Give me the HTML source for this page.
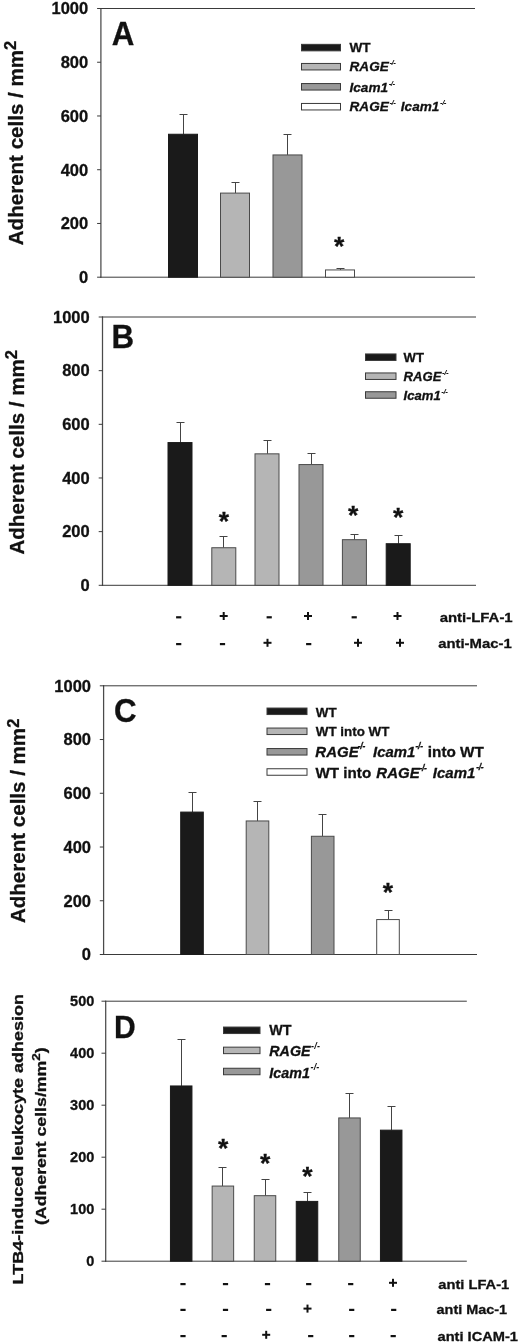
<!DOCTYPE html><html><head><meta charset="utf-8"><style>html,body{margin:0;padding:0;background:#fff}svg{display:block;filter:blur(0.35px)}text{font-family:"Liberation Sans",sans-serif;font-weight:bold;fill:#111111;stroke:#111111;stroke-width:0.3px}</style></head><body>
<svg width="520" height="1343" viewBox="0 0 520 1343">
<rect width="520" height="1343" fill="#fff"/>
<line x1="100.9" y1="8.0" x2="100.9" y2="277.7" stroke="#4a4a4a" stroke-width="1.25"/>
<line x1="100.4" y1="8.5" x2="475" y2="8.5" stroke="#3a3a3a" stroke-width="1"/>
<line x1="100.4" y1="277.2" x2="475" y2="277.2" stroke="#3a3a3a" stroke-width="1"/>
<line x1="97.10000000000001" y1="277.2" x2="100.9" y2="277.2" stroke="#3a3a3a" stroke-width="1"/>
<text x="88.2" y="283.0" font-size="16.5" text-anchor="end"  style="">0</text>
<line x1="97.10000000000001" y1="223.45999999999998" x2="100.9" y2="223.45999999999998" stroke="#3a3a3a" stroke-width="1"/>
<text x="88.2" y="229.26" font-size="16.5" text-anchor="end"  style="">200</text>
<line x1="97.10000000000001" y1="169.71999999999997" x2="100.9" y2="169.71999999999997" stroke="#3a3a3a" stroke-width="1"/>
<text x="88.2" y="175.51999999999998" font-size="16.5" text-anchor="end"  style="">400</text>
<line x1="97.10000000000001" y1="115.97999999999999" x2="100.9" y2="115.97999999999999" stroke="#3a3a3a" stroke-width="1"/>
<text x="88.2" y="121.77999999999999" font-size="16.5" text-anchor="end"  style="">600</text>
<line x1="97.10000000000001" y1="62.23999999999998" x2="100.9" y2="62.23999999999998" stroke="#3a3a3a" stroke-width="1"/>
<text x="88.2" y="68.03999999999998" font-size="16.5" text-anchor="end"  style="">800</text>
<line x1="97.10000000000001" y1="8.5" x2="100.9" y2="8.5" stroke="#3a3a3a" stroke-width="1"/>
<text x="88.2" y="14.3" font-size="16.5" text-anchor="end"  style="">1000</text>
<line x1="183.5" y1="114.5" x2="183.5" y2="134.2516" stroke="#444" stroke-width="1"/>
<line x1="179.5" y1="114.5" x2="187.5" y2="114.5" stroke="#444" stroke-width="1"/>
<rect x="168.5" y="134.2516" width="29" height="142.9484" fill="#1a1a1a" stroke="#1a1a1a" stroke-width="1"/>
<line x1="235.5" y1="182.5" x2="235.5" y2="193.0969" stroke="#444" stroke-width="1"/>
<line x1="231.5" y1="182.5" x2="239.5" y2="182.5" stroke="#444" stroke-width="1"/>
<rect x="220.5" y="193.0969" width="29" height="84.10309999999998" fill="#b5b5b5" stroke="#4a4a4a" stroke-width="1"/>
<line x1="287.5" y1="134.5" x2="287.5" y2="154.9415" stroke="#444" stroke-width="1"/>
<line x1="283.5" y1="134.5" x2="291.5" y2="134.5" stroke="#444" stroke-width="1"/>
<rect x="273.0" y="154.9415" width="29" height="122.2585" fill="#989898" stroke="#4a4a4a" stroke-width="1"/>
<line x1="340.5" y1="268.5" x2="340.5" y2="269.94509999999997" stroke="#444" stroke-width="1"/>
<line x1="336.5" y1="268.5" x2="344.5" y2="268.5" stroke="#444" stroke-width="1"/>
<rect x="325.5" y="269.94509999999997" width="29" height="7.2549000000000206" fill="#ffffff" stroke="#4a4a4a" stroke-width="1"/>
<text x="339.2" y="255.3" font-size="26.5" text-anchor="middle" stroke="none" style="">*</text>
<text transform="translate(111.7,44.6) scale(0.94,1)" font-size="33.3">A</text>
<rect x="301.5" y="44.35" width="39" height="6.5" fill="#1a1a1a" stroke="#3a3a3a" stroke-width="1"/>
<text x="349.5" y="52.2" font-size="13.6" text-anchor="start"  style="">WT</text>
<rect x="301.5" y="63.45" width="39" height="6.5" fill="#b5b5b5" stroke="#3a3a3a" stroke-width="1"/>
<text x="349.5" y="71.3" font-size="13.6" text-anchor="start"  style=""><tspan font-style="italic">RAGE</tspan><tspan dy="-6.0" dx="0.6" font-size="8" font-style="italic" font-weight="bold" letter-spacing="-0.5" stroke="none">-/-</tspan></text>
<rect x="301.5" y="83.55" width="39" height="6.5" fill="#989898" stroke="#3a3a3a" stroke-width="1"/>
<text x="349.5" y="92.3" font-size="13.6" text-anchor="start"  style=""><tspan font-style="italic">Icam1</tspan><tspan dy="-6.0" dx="0.6" font-size="8" font-style="italic" font-weight="bold" letter-spacing="-0.5" stroke="none">-/-</tspan></text>
<rect x="301.5" y="103.45" width="39" height="6.5" fill="#ffffff" stroke="#3a3a3a" stroke-width="1"/>
<text x="349.5" y="111.3" font-size="13.6" text-anchor="start"  style=""><tspan font-style="italic">RAGE</tspan><tspan dy="-6.0" dx="0.6" font-size="8" font-style="italic" font-weight="bold" letter-spacing="-0.5" stroke="none">-/-</tspan><tspan dy="6.0" dx="1.6" letter-spacing="0" font-style="italic"> Icam1</tspan><tspan dy="-6.0" dx="0.6" font-size="8" font-style="italic" font-weight="bold" letter-spacing="-0.5" stroke="none">-/-</tspan></text>
<text transform="translate(23,143.0) rotate(-90) scale(1,1)" font-size="20.55" text-anchor="middle">Adherent cells / mm<tspan dy="-6.9" font-size="16.5">2</tspan></text>
<line x1="102.5" y1="316.5" x2="102.5" y2="585.8" stroke="#4a4a4a" stroke-width="1.25"/>
<line x1="102.0" y1="317" x2="476" y2="317" stroke="#3a3a3a" stroke-width="1"/>
<line x1="102.0" y1="585.3" x2="476" y2="585.3" stroke="#3a3a3a" stroke-width="1"/>
<line x1="98.7" y1="585.3" x2="102.5" y2="585.3" stroke="#3a3a3a" stroke-width="1"/>
<text x="89.7" y="591.0999999999999" font-size="16.5" text-anchor="end"  style="">0</text>
<line x1="98.7" y1="531.64" x2="102.5" y2="531.64" stroke="#3a3a3a" stroke-width="1"/>
<text x="89.7" y="537.4399999999999" font-size="16.5" text-anchor="end"  style="">200</text>
<line x1="98.7" y1="477.98" x2="102.5" y2="477.98" stroke="#3a3a3a" stroke-width="1"/>
<text x="89.7" y="483.78000000000003" font-size="16.5" text-anchor="end"  style="">400</text>
<line x1="98.7" y1="424.32" x2="102.5" y2="424.32" stroke="#3a3a3a" stroke-width="1"/>
<text x="89.7" y="430.12" font-size="16.5" text-anchor="end"  style="">600</text>
<line x1="98.7" y1="370.66" x2="102.5" y2="370.66" stroke="#3a3a3a" stroke-width="1"/>
<text x="89.7" y="376.46000000000004" font-size="16.5" text-anchor="end"  style="">800</text>
<line x1="98.7" y1="317.0" x2="102.5" y2="317.0" stroke="#3a3a3a" stroke-width="1"/>
<text x="89.7" y="322.8" font-size="16.5" text-anchor="end"  style="">1000</text>
<line x1="180.5" y1="422.5" x2="180.5" y2="442.5644" stroke="#444" stroke-width="1"/>
<line x1="176.5" y1="422.5" x2="184.5" y2="422.5" stroke="#444" stroke-width="1"/>
<rect x="168.0" y="442.5644" width="24" height="142.73559999999998" fill="#1a1a1a" stroke="#1a1a1a" stroke-width="1"/>
<line x1="223.5" y1="536.5" x2="223.5" y2="547.7379999999999" stroke="#444" stroke-width="1"/>
<line x1="219.5" y1="536.5" x2="227.5" y2="536.5" stroke="#444" stroke-width="1"/>
<rect x="211.8" y="547.7379999999999" width="24" height="37.56200000000001" fill="#b5b5b5" stroke="#4a4a4a" stroke-width="1"/>
<text x="223.8" y="529.5999999999999" font-size="26.5" text-anchor="middle" stroke="none" style="">*</text>
<line x1="267.5" y1="440.5" x2="267.5" y2="453.83299999999997" stroke="#444" stroke-width="1"/>
<line x1="263.5" y1="440.5" x2="271.5" y2="440.5" stroke="#444" stroke-width="1"/>
<rect x="255.0" y="453.83299999999997" width="24" height="131.46699999999998" fill="#b5b5b5" stroke="#4a4a4a" stroke-width="1"/>
<line x1="311.5" y1="453.5" x2="311.5" y2="464.565" stroke="#444" stroke-width="1"/>
<line x1="307.5" y1="453.5" x2="315.5" y2="453.5" stroke="#444" stroke-width="1"/>
<rect x="299.0" y="464.565" width="24" height="120.73499999999996" fill="#989898" stroke="#4a4a4a" stroke-width="1"/>
<line x1="354.5" y1="534.5" x2="354.5" y2="539.689" stroke="#444" stroke-width="1"/>
<line x1="350.5" y1="534.5" x2="358.5" y2="534.5" stroke="#444" stroke-width="1"/>
<rect x="342.4" y="539.689" width="24" height="45.61099999999999" fill="#989898" stroke="#4a4a4a" stroke-width="1"/>
<text x="353.2" y="524.3" font-size="26.5" text-anchor="middle" stroke="none" style="">*</text>
<line x1="398.5" y1="535.5" x2="398.5" y2="543.7135" stroke="#444" stroke-width="1"/>
<line x1="394.5" y1="535.5" x2="402.5" y2="535.5" stroke="#444" stroke-width="1"/>
<rect x="386.2" y="543.7135" width="24" height="41.5865" fill="#1a1a1a" stroke="#1a1a1a" stroke-width="1"/>
<text x="398.2" y="525.8" font-size="26.5" text-anchor="middle" stroke="none" style="">*</text>
<text transform="translate(111.4,348.1) scale(0.94,1)" font-size="33.3">B</text>
<rect x="365.5" y="353.95" width="30.5" height="6.5" fill="#1a1a1a" stroke="#3a3a3a" stroke-width="1"/>
<text x="403.6" y="362.2" font-size="13.1" text-anchor="start"  style="">WT</text>
<rect x="365.5" y="372.95" width="30.5" height="6.5" fill="#b5b5b5" stroke="#3a3a3a" stroke-width="1"/>
<text x="403.6" y="380.8" font-size="13.1" text-anchor="start"  style=""><tspan font-style="italic">RAGE</tspan><tspan dy="-6.0" dx="0.6" font-size="8" font-style="italic" font-weight="bold" letter-spacing="-0.5" stroke="none">-/-</tspan></text>
<rect x="365.5" y="391.75" width="30.5" height="6.5" fill="#989898" stroke="#3a3a3a" stroke-width="1"/>
<text x="403.6" y="399.7" font-size="13.1" text-anchor="start"  style=""><tspan font-style="italic">Icam1</tspan><tspan dy="-6.0" dx="0.6" font-size="8" font-style="italic" font-weight="bold" letter-spacing="-0.5" stroke="none">-/-</tspan></text>
<text transform="translate(24.2,452.3) rotate(-90) scale(1,1)" font-size="20.55" text-anchor="middle">Adherent cells / mm<tspan dy="-6.9" font-size="16.5">2</tspan></text>
<rect x="176.1" y="616.1999999999999" width="5.2" height="2.2" fill="#111111"/>
<rect x="219.7" y="615.0" width="8" height="2.0" fill="#111111"/>
<rect x="222.7" y="612.0" width="2.0" height="8" fill="#111111"/>
<rect x="266.59999999999997" y="616.1999999999999" width="5.2" height="2.2" fill="#111111"/>
<rect x="304.0" y="615.0" width="8" height="2.0" fill="#111111"/>
<rect x="307.0" y="612.0" width="2.0" height="8" fill="#111111"/>
<rect x="351.59999999999997" y="616.1999999999999" width="5.2" height="2.2" fill="#111111"/>
<rect x="393.5" y="615.0" width="8" height="2.0" fill="#111111"/>
<rect x="396.5" y="612.0" width="2.0" height="8" fill="#111111"/>
<rect x="176.1" y="642.9999999999999" width="5.2" height="2.2" fill="#111111"/>
<rect x="219.9" y="642.9999999999999" width="5.2" height="2.2" fill="#111111"/>
<rect x="263.5" y="641.8" width="8" height="2.0" fill="#111111"/>
<rect x="266.5" y="638.8" width="2.0" height="8" fill="#111111"/>
<rect x="306.09999999999997" y="642.9999999999999" width="5.2" height="2.2" fill="#111111"/>
<rect x="354.0" y="641.8" width="8" height="2.0" fill="#111111"/>
<rect x="357.0" y="638.8" width="2.0" height="8" fill="#111111"/>
<rect x="396.0" y="641.8" width="8" height="2.0" fill="#111111"/>
<rect x="399.0" y="638.8" width="2.0" height="8" fill="#111111"/>
<text x="439.7" y="622" font-size="13.4" textLength="73" lengthAdjust="spacingAndGlyphs">anti-LFA-1</text>
<text x="438.2" y="648" font-size="13.4" textLength="73.5" lengthAdjust="spacingAndGlyphs">anti-Mac-1</text>
<line x1="103.6" y1="685.3" x2="103.6" y2="955.0" stroke="#4a4a4a" stroke-width="1.25"/>
<line x1="103.1" y1="685.8" x2="477" y2="685.8" stroke="#3a3a3a" stroke-width="1"/>
<line x1="103.1" y1="954.5" x2="477" y2="954.5" stroke="#3a3a3a" stroke-width="1"/>
<line x1="99.8" y1="954.5" x2="103.6" y2="954.5" stroke="#3a3a3a" stroke-width="1"/>
<text x="91.0" y="960.3" font-size="16.5" text-anchor="end"  style="">0</text>
<line x1="99.8" y1="900.76" x2="103.6" y2="900.76" stroke="#3a3a3a" stroke-width="1"/>
<text x="91.0" y="906.56" font-size="16.5" text-anchor="end"  style="">200</text>
<line x1="99.8" y1="847.02" x2="103.6" y2="847.02" stroke="#3a3a3a" stroke-width="1"/>
<text x="91.0" y="852.8199999999999" font-size="16.5" text-anchor="end"  style="">400</text>
<line x1="99.8" y1="793.28" x2="103.6" y2="793.28" stroke="#3a3a3a" stroke-width="1"/>
<text x="91.0" y="799.0799999999999" font-size="16.5" text-anchor="end"  style="">600</text>
<line x1="99.8" y1="739.54" x2="103.6" y2="739.54" stroke="#3a3a3a" stroke-width="1"/>
<text x="91.0" y="745.3399999999999" font-size="16.5" text-anchor="end"  style="">800</text>
<line x1="99.8" y1="685.8" x2="103.6" y2="685.8" stroke="#3a3a3a" stroke-width="1"/>
<text x="91.0" y="691.5999999999999" font-size="16.5" text-anchor="end"  style="">1000</text>
<line x1="192.5" y1="792.5" x2="192.5" y2="812.0889999999999" stroke="#444" stroke-width="1"/>
<line x1="188.5" y1="792.5" x2="196.5" y2="792.5" stroke="#444" stroke-width="1"/>
<rect x="180.7" y="812.0889999999999" width="22.6" height="142.41100000000006" fill="#1a1a1a" stroke="#1a1a1a" stroke-width="1"/>
<line x1="257.5" y1="801.5" x2="257.5" y2="820.9561" stroke="#444" stroke-width="1"/>
<line x1="253.5" y1="801.5" x2="261.5" y2="801.5" stroke="#444" stroke-width="1"/>
<rect x="246.2" y="820.9561" width="22.6" height="133.5439" fill="#b5b5b5" stroke="#4a4a4a" stroke-width="1"/>
<line x1="322.5" y1="814.5" x2="322.5" y2="836.2719999999999" stroke="#444" stroke-width="1"/>
<line x1="318.5" y1="814.5" x2="326.5" y2="814.5" stroke="#444" stroke-width="1"/>
<rect x="311.4" y="836.2719999999999" width="22.6" height="118.22800000000007" fill="#989898" stroke="#4a4a4a" stroke-width="1"/>
<line x1="388.5" y1="910.5" x2="388.5" y2="919.569" stroke="#444" stroke-width="1"/>
<line x1="384.5" y1="910.5" x2="392.5" y2="910.5" stroke="#444" stroke-width="1"/>
<rect x="376.7" y="919.569" width="22.6" height="34.93100000000004" fill="#ffffff" stroke="#4a4a4a" stroke-width="1"/>
<text x="388" y="900.8" font-size="26.5" text-anchor="middle" stroke="none" style="">*</text>
<text transform="translate(114.0,722.4) scale(0.94,1)" font-size="33.3">C</text>
<rect x="267" y="708.05" width="40" height="6.5" fill="#1a1a1a" stroke="#3a3a3a" stroke-width="1"/>
<text x="315.8" y="716.8" font-size="13.4" text-anchor="start"  style="">WT</text>
<rect x="267" y="728.05" width="40" height="6.5" fill="#b5b5b5" stroke="#3a3a3a" stroke-width="1"/>
<text x="315.8" y="735.5999999999999" font-size="13.4" text-anchor="start"  style="">WT into WT</text>
<rect x="267" y="748.55" width="40" height="6.5" fill="#989898" stroke="#3a3a3a" stroke-width="1"/>
<text x="315.8" y="756.4" font-size="13.4" text-anchor="start"  style=""></text>
<rect x="267" y="768.75" width="40" height="6.5" fill="#ffffff" stroke="#3a3a3a" stroke-width="1"/>
<text x="315.8" y="776.6" font-size="13.4" text-anchor="start"  style=""></text>
<text x="315.3" y="757" font-size="15" font-style="italic">RAGE</text>
<text x="357.8" y="749.3" font-size="8.5" font-style="italic" letter-spacing="-0.3" stroke="none">-/-</text>
<text x="373.0" y="757" font-size="14.9" font-style="italic">Icam1</text>
<text x="415.6" y="749.0" font-size="8.5" font-style="italic" letter-spacing="-0.3" stroke="none">-/-</text>
<text x="427.8" y="757" font-size="15.3" text-anchor="start"  style="">into WT</text>
<text x="315.5" y="778.0" font-size="15.2" text-anchor="start"  style="">WT into</text>
<text x="376.3" y="778.0" font-size="15" font-style="italic">RAGE</text>
<text x="419.4" y="770.6" font-size="8.5" font-style="italic" letter-spacing="-0.3" stroke="none">-/-</text>
<text x="432.8" y="778.0" font-size="15" font-style="italic">Icam1</text>
<text x="476.2" y="770.3" font-size="8.5" font-style="italic" letter-spacing="-0.3" stroke="none">-/-</text>
<text transform="translate(25.4,820.9) rotate(-90) scale(1,1)" font-size="20.55" text-anchor="middle">Adherent cells / mm<tspan dy="-6.9" font-size="16.5">2</tspan></text>
<line x1="105.7" y1="1000.7" x2="105.7" y2="1261.7" stroke="#4a4a4a" stroke-width="1.25"/>
<line x1="105.2" y1="1001.2" x2="466.8" y2="1001.2" stroke="#3a3a3a" stroke-width="1"/>
<line x1="105.2" y1="1261.2" x2="466.8" y2="1261.2" stroke="#3a3a3a" stroke-width="1"/>
<line x1="101.5" y1="1261.2" x2="105.7" y2="1261.2" stroke="#3a3a3a" stroke-width="1"/>
<text x="94.3" y="1266.3" font-size="14.5" text-anchor="end"  style="">0</text>
<line x1="101.5" y1="1209.2" x2="105.7" y2="1209.2" stroke="#3a3a3a" stroke-width="1"/>
<text x="94.3" y="1214.3" font-size="14.5" text-anchor="end"  style="">100</text>
<line x1="101.5" y1="1157.2" x2="105.7" y2="1157.2" stroke="#3a3a3a" stroke-width="1"/>
<text x="94.3" y="1162.3" font-size="14.5" text-anchor="end"  style="">200</text>
<line x1="101.5" y1="1105.2" x2="105.7" y2="1105.2" stroke="#3a3a3a" stroke-width="1"/>
<text x="94.3" y="1110.3" font-size="14.5" text-anchor="end"  style="">300</text>
<line x1="101.5" y1="1053.2" x2="105.7" y2="1053.2" stroke="#3a3a3a" stroke-width="1"/>
<text x="94.3" y="1058.3" font-size="14.5" text-anchor="end"  style="">400</text>
<line x1="101.5" y1="1001.2" x2="105.7" y2="1001.2" stroke="#3a3a3a" stroke-width="1"/>
<text x="94.3" y="1006.3000000000001" font-size="14.5" text-anchor="end"  style="">500</text>
<line x1="181.5" y1="1039.5" x2="181.5" y2="1085.96" stroke="#444" stroke-width="1"/>
<line x1="177.5" y1="1039.5" x2="185.5" y2="1039.5" stroke="#444" stroke-width="1"/>
<rect x="170.45" y="1085.96" width="21.5" height="175.24" fill="#1a1a1a" stroke="#1a1a1a" stroke-width="1"/>
<line x1="222.5" y1="1167.5" x2="222.5" y2="1186.06" stroke="#444" stroke-width="1"/>
<line x1="218.5" y1="1167.5" x2="226.5" y2="1167.5" stroke="#444" stroke-width="1"/>
<rect x="212.15" y="1186.06" width="21.5" height="75.1400000000001" fill="#b5b5b5" stroke="#4a4a4a" stroke-width="1"/>
<text x="223.2" y="1157.3" font-size="26.5" text-anchor="middle" stroke="none" style="">*</text>
<line x1="265.5" y1="1179.5" x2="265.5" y2="1195.68" stroke="#444" stroke-width="1"/>
<line x1="261.5" y1="1179.5" x2="269.5" y2="1179.5" stroke="#444" stroke-width="1"/>
<rect x="254.25" y="1195.68" width="21.5" height="65.51999999999998" fill="#b5b5b5" stroke="#4a4a4a" stroke-width="1"/>
<text x="265.2" y="1171.8" font-size="26.5" text-anchor="middle" stroke="none" style="">*</text>
<line x1="307.5" y1="1192.5" x2="307.5" y2="1201.4" stroke="#444" stroke-width="1"/>
<line x1="303.5" y1="1192.5" x2="311.5" y2="1192.5" stroke="#444" stroke-width="1"/>
<rect x="296.25" y="1201.4" width="21.5" height="59.799999999999955" fill="#1a1a1a" stroke="#1a1a1a" stroke-width="1"/>
<text x="307.5" y="1184.8" font-size="26.5" text-anchor="middle" stroke="none" style="">*</text>
<line x1="349.5" y1="1093.5" x2="349.5" y2="1117.94" stroke="#444" stroke-width="1"/>
<line x1="345.5" y1="1093.5" x2="353.5" y2="1093.5" stroke="#444" stroke-width="1"/>
<rect x="338.75" y="1117.94" width="21.5" height="143.26" fill="#989898" stroke="#4a4a4a" stroke-width="1"/>
<line x1="391.5" y1="1106.5" x2="391.5" y2="1130.16" stroke="#444" stroke-width="1"/>
<line x1="387.5" y1="1106.5" x2="395.5" y2="1106.5" stroke="#444" stroke-width="1"/>
<rect x="380.45" y="1130.16" width="21.5" height="131.03999999999996" fill="#1a1a1a" stroke="#1a1a1a" stroke-width="1"/>
<text transform="translate(114,1037.7) scale(0.94,1)" font-size="32">D</text>
<rect x="223.5" y="1027.05" width="36.5" height="6.5" fill="#1a1a1a" stroke="#3a3a3a" stroke-width="1"/>
<text x="269.3" y="1035.0" font-size="14.3" text-anchor="start"  style="">WT</text>
<rect x="223.5" y="1047.15" width="36.5" height="6.5" fill="#b5b5b5" stroke="#3a3a3a" stroke-width="1"/>
<text x="269.3" y="1055.5" font-size="14.3" text-anchor="start"  style=""><tspan font-style="italic">RAGE</tspan><tspan dy="-6.6" dx="0.4" font-size="9" font-style="italic" font-weight="bold" letter-spacing="0.2" stroke="none">-/-</tspan></text>
<rect x="223.5" y="1068.25" width="36.5" height="6.5" fill="#989898" stroke="#3a3a3a" stroke-width="1"/>
<text x="269.3" y="1077.5" font-size="14.3" text-anchor="start"  style=""><tspan font-style="italic">Icam1</tspan><tspan dy="-8.0" dx="0.6" font-size="9" font-style="italic" font-weight="bold" letter-spacing="0.2" stroke="none">-/-</tspan></text>
<text transform="translate(23.3,1139.2) rotate(-90) scale(1.184,1)" font-size="15.2" text-anchor="middle">LTB4-induced leukocyte adhesion</text>
<text transform="translate(46.0,1136.2) rotate(-90) scale(1.165,1)" font-size="15.2" text-anchor="middle">(Adherent cells/mm<tspan dy="-6" font-size="11.5">2</tspan><tspan dy="6">)</tspan></text>
<rect x="180.4" y="1283.0" width="5.2" height="2.2" fill="#111111"/>
<rect x="222.9" y="1283.0" width="5.2" height="2.2" fill="#111111"/>
<rect x="264.9" y="1283.0" width="5.2" height="2.2" fill="#111111"/>
<rect x="306.09999999999997" y="1283.0" width="5.2" height="2.2" fill="#111111"/>
<rect x="348.09999999999997" y="1283.0" width="5.2" height="2.2" fill="#111111"/>
<rect x="389.0" y="1281.8" width="8" height="2.0" fill="#111111"/>
<rect x="392.0" y="1278.8" width="2.0" height="8" fill="#111111"/>
<rect x="180.4" y="1308.8" width="5.2" height="2.2" fill="#111111"/>
<rect x="222.9" y="1308.8" width="5.2" height="2.2" fill="#111111"/>
<rect x="266.09999999999997" y="1308.8" width="5.2" height="2.2" fill="#111111"/>
<rect x="303.5" y="1307.6" width="8" height="2.0" fill="#111111"/>
<rect x="306.5" y="1304.6" width="2.0" height="8" fill="#111111"/>
<rect x="349.09999999999997" y="1308.8" width="5.2" height="2.2" fill="#111111"/>
<rect x="391.09999999999997" y="1308.8" width="5.2" height="2.2" fill="#111111"/>
<rect x="180.4" y="1335.0" width="5.2" height="2.2" fill="#111111"/>
<rect x="221.6" y="1335.0" width="5.2" height="2.2" fill="#111111"/>
<rect x="262.2" y="1333.8" width="8" height="2.0" fill="#111111"/>
<rect x="265.2" y="1330.8" width="2.0" height="8" fill="#111111"/>
<rect x="308.09999999999997" y="1335.0" width="5.2" height="2.2" fill="#111111"/>
<rect x="349.09999999999997" y="1335.0" width="5.2" height="2.2" fill="#111111"/>
<rect x="390.59999999999997" y="1335.0" width="5.2" height="2.2" fill="#111111"/>
<text x="438.3" y="1288.5" font-size="13.4" textLength="71" lengthAdjust="spacingAndGlyphs">anti LFA-1</text>
<text x="436.6" y="1314.4" font-size="13.4" textLength="70.5" lengthAdjust="spacingAndGlyphs">anti Mac-1</text>
<text x="437.5" y="1340.6" font-size="13.4" textLength="80.5" lengthAdjust="spacingAndGlyphs">anti ICAM-1</text>
</svg></body></html>
